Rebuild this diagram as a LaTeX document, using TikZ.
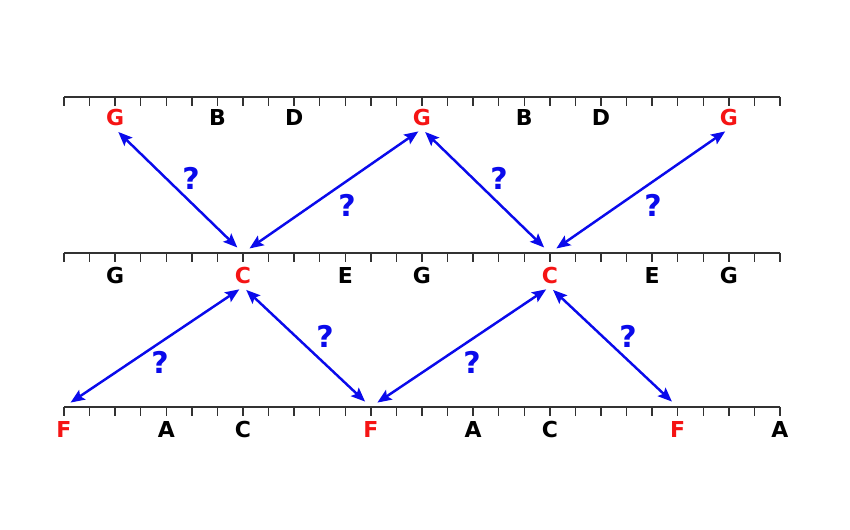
\documentclass[tikz,border=0pt]{standalone}
\usepackage{fontspec}
\setsansfont{DejaVu Sans}
\usetikzlibrary{arrows.meta}

\definecolor{qblue}{RGB}{10,10,235}
\definecolor{keyred}{RGB}{245,20,20}
\definecolor{rulegray}{RGB}{50,50,50}

\begin{document}
\begin{tikzpicture}[x=0.02cm,y=-0.02cm]

\tikzset{
    note/.style={font=\sffamily\bfseries\fontsize{12.5}{14}\selectfont,text=#1,
        text height=9pt,text depth=0pt,inner sep=1.5pt},
    ask/.style={font=\sffamily\bfseries\fontsize{17}{19}\selectfont,text=qblue,inner sep=0pt},
    rule/.style={rulegray,line width=1.1pt},
    tick/.style={rulegray,line width=0.8pt},
    leap/.style={{Stealth[length=8pt,width=6.5pt,inset=1.5pt]}-{Stealth[length=8pt,width=6.5pt,inset=1.5pt]},
        qblue,line width=1.4pt,shorten <=2.5pt,shorten >=4.5pt}}

\useasboundingbox (0,0) rectangle (850,530);

% the three rulers
\foreach \row/\y in {up/97,mid/253,low/407}{
    \draw[rule] (64,\y) -- (780,\y);
    \foreach \i in {0,...,28}{
        \coordinate (\row\i) at ({64+\i*25.57},\y);
        \draw[tick] (\row\i) -- ++(0,9);
    }
}

% note names
\foreach \i/\t/\c in {2/G/keyred,6/B/black,9/D/black,14/G/keyred,18/B/black,21/D/black,26/G/keyred}
    \node[note=\c] (upL\i) at ({64+\i*25.57},118) {\t};
\foreach \i/\t/\c in {2/G/black,7/C/keyred,11/E/black,14/G/black,19/C/keyred,23/E/black,26/G/black}
    \node[note=\c] (midL\i) at ({64+\i*25.57},276) {\t};
\foreach \i/\t/\c in {0/F/keyred,4/A/black,7/C/black,12/F/keyred,16/A/black,19/C/black,24/F/keyred,28/A/black}
    \node[note=\c] (lowL\i) at ({64+\i*25.57},430) {\t};

% leaps
\draw[leap] (upL2.south) -- (mid7);
\draw[leap] (upL14.south) -- (mid7);
\draw[leap] (upL14.south) -- (mid19);
\draw[leap] (upL26.south) -- (mid19);

\draw[leap] (midL7.south) -- (low0);
\draw[leap] (midL7.south) -- (low12);
\draw[leap] (midL19.south) -- (low12);
\draw[leap] (midL19.south) -- (low24);

\foreach \x/\y [count=\k] in {191/178,347/205,499/178,653/205,160/362,325/336,472/362,628/336}
    \node[ask] (q\k) at (\x,\y) {?};

\end{tikzpicture}
\end{document}
